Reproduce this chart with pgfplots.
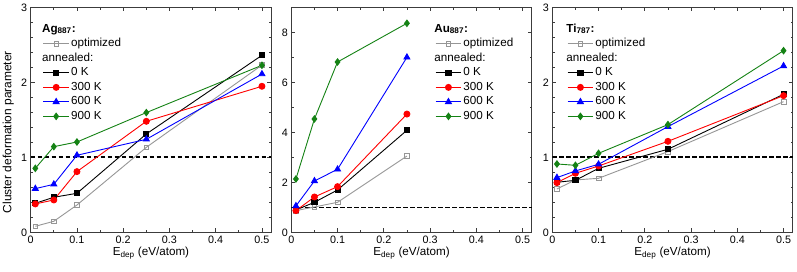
\documentclass[border=0pt]{standalone}
\usepackage{fontspec}
\setmainfont{Liberation Sans}
\usepackage{pgfplots}
\pgfplotsset{compat=1.18}
\definecolor{cgray}{RGB}{150,150,150}
\definecolor{cred}{RGB}{255,0,0}
\definecolor{cblue}{RGB}{0,0,255}
\definecolor{cgreen}{RGB}{20,130,20}
\definecolor{axcol}{RGB}{60,60,60}
\pgfplotsset{
  panel/.style={
    scale only axis, width=240.5bp, height=225bp, anchor=south west,
    xmin=0, xmax=0.52,
    xtick={0,0.1,0.2,0.3,0.4,0.5}, minor x tick num=1,
    tick align=inside, ticks=both,
    major tick length=4bp, minor tick length=2.3bp,
    axis line style={axcol, line width=0.8bp},
    every tick/.style={axcol, line width=0.7bp},
    /pgf/number format/assume math mode=true,
    tick label style={font=\fontsize{10.8}{12}\selectfont},
    xticklabel style={/pgf/number format/fixed},
    xlabel={E\textsubscript{dep} (eV/atom)},
    every axis x label/.style={at={(axis description cs:0.5,-0.104)}, anchor=base, font=\fontsize{11.7}{13}\selectfont},
    legend cell align=left,
    legend style={draw=none, fill=none, inner sep=0pt, row sep=0pt,
      font=\fontsize{11.7}{14}\selectfont,
      nodes={inner xsep=1.7bp, inner ysep=1bp, text height=9bp, text depth=3.5bp}},
    legend image code/.code={\draw[mark repeat=2,mark phase=2] plot coordinates {(0bp,0bp) (12.8bp,0bp) (25.6bp,0bp)};},
  },
  sopt/.style={cgray, line width=0.9bp, mark=square, mark size=2.3bp, mark options={fill=white, solid, line width=0.7bp}},
  s0/.style={black, line width=0.9bp, mark=square*, mark size=2.6bp, mark options={solid}},
  s300/.style={cred, line width=0.9bp, mark=*, mark size=3bp, mark options={solid}},
  s600/.style={cblue, line width=0.9bp, mark=triangle*, mark size=3.4bp, mark options={solid}},
  s900/.style={cgreen, line width=0.9bp, mark=diamond*, mark size=3.2bp, mark options={solid}},
  dashref/.style={black, line width=1.6bp, dash pattern=on 4.2bp off 2.8bp, forget plot},
}
\newcommand{\ttl}[1]{\hspace{-29bp}#1}
\begin{document}
\begin{tikzpicture}
\path[use as bounding box] (0bp,0bp) rectangle (797bp,272bp);
% ---------- Ag ----------
\begin{axis}[panel, at={(30.7bp,39.7bp)},
  ymin=0, ymax=3, ytick={0,1,2,3}, minor y tick num=4,
  ylabel={Cluster deformation parameter},
  every axis y label/.style={at={(axis description cs:-0.093,0.445)}, rotate=90, anchor=center, font=\fontsize{12}{14}\selectfont},
  legend style={at={(axis description cs:0.05,0.935)}, anchor=north west}]
\addplot[dashref] coordinates {(0,1) (0.52,1)};
\addlegendimage{empty legend}
\addlegendentry{\ttl{\textbf{Ag\textsubscript{887}:}}}
\addplot[sopt] coordinates {(0.01,0.08) (0.05,0.147) (0.1,0.364) (0.25,1.133) (0.5,2.23)};
\addlegendentry{optimized}
\addlegendimage{empty legend}
\addlegendentry{\hspace{-29bp}annealed:}
\addplot[s0] coordinates {(0.01,0.387) (0.05,0.467) (0.1,0.52) (0.25,1.311) (0.5,2.36)};
\addlegendentry{0 K}
\addplot[s300] coordinates {(0.01,0.378) (0.05,0.431) (0.1,0.809) (0.25,1.48) (0.5,1.947)};
\addlegendentry{300 K}
\addplot[s600] coordinates {(0.01,0.582) (0.05,0.64) (0.1,1.027) (0.25,1.24) (0.5,2.11)};
\addlegendentry{600 K}
\addplot[s900] coordinates {(0.01,0.853) (0.05,1.142) (0.1,1.204) (0.25,1.596) (0.5,2.227)};
\addlegendentry{900 K}
\end{axis}
% ---------- Au ----------
\begin{axis}[panel, at={(291.3bp,39.7bp)},
  ymin=0, ymax=9, ytick={0,2,4,6,8}, minor y tick num=1,
  legend style={at={(axis description cs:0.5975,0.935)}, anchor=north west}]
\addplot[dashref] coordinates {(0,1) (0.52,1)};
\addlegendimage{empty legend}
\addlegendentry{\ttl{\textbf{Au\textsubscript{887}:}}}
\addplot[sopt] coordinates {(0.01,0.867) (0.05,1.013) (0.1,1.2) (0.25,3.05)};
\addlegendentry{optimized}
\addlegendimage{empty legend}
\addlegendentry{\hspace{-29bp}annealed:}
\addplot[s0] coordinates {(0.01,0.893) (0.05,1.2) (0.1,1.693) (0.25,4.08)};
\addlegendentry{0 K}
\addplot[s300] coordinates {(0.01,0.867) (0.05,1.413) (0.1,1.827) (0.25,4.73)};
\addlegendentry{300 K}
\addplot[s600] coordinates {(0.01,1.053) (0.05,2.053) (0.1,2.52) (0.25,7.0)};
\addlegendentry{600 K}
\addplot[s900] coordinates {(0.01,2.133) (0.05,4.533) (0.1,6.813) (0.25,8.36)};
\addlegendentry{900 K}
\end{axis}
% ---------- Ti ----------
\begin{axis}[panel, at={(552.3bp,39.7bp)},
  ymin=0, ymax=3, ytick={0,1,2,3}, minor y tick num=4,
  legend style={at={(axis description cs:0.061,0.935)}, anchor=north west}]
\addplot[dashref] coordinates {(0,1) (0.52,1)};
\addlegendimage{empty legend}
\addlegendentry{\ttl{\textbf{Ti\textsubscript{787}:}}}
\addplot[sopt] coordinates {(0.01,0.578) (0.05,0.698) (0.1,0.72) (0.25,1.076) (0.5,1.742)};
\addlegendentry{optimized}
\addlegendimage{empty legend}
\addlegendentry{\hspace{-29bp}annealed:}
\addplot[s0] coordinates {(0.01,0.667) (0.05,0.693) (0.1,0.853) (0.25,1.107) (0.5,1.84)};
\addlegendentry{0 K}
\addplot[s300] coordinates {(0.01,0.662) (0.05,0.787) (0.1,0.884) (0.25,1.213) (0.5,1.822)};
\addlegendentry{300 K}
\addplot[s600] coordinates {(0.01,0.729) (0.05,0.818) (0.1,0.907) (0.25,1.409) (0.5,2.218)};
\addlegendentry{600 K}
\addplot[s900] coordinates {(0.01,0.911) (0.05,0.893) (0.1,1.053) (0.25,1.436) (0.5,2.422)};
\addlegendentry{900 K}
\end{axis}
\end{tikzpicture}
\end{document}
